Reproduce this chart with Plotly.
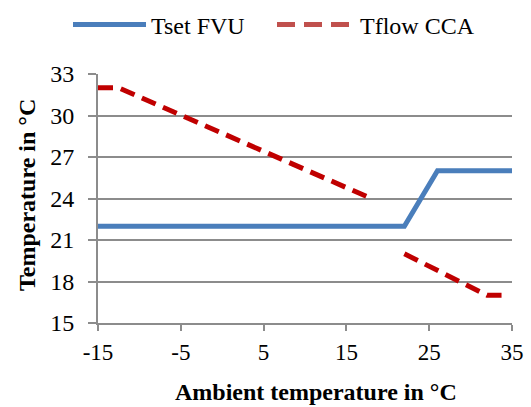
import plotly.graph_objects as go

# Data
ambient_fvu = [-15, 22, 26, 35]
tset_fvu = [22, 22, 26, 26]

ambient_cca = [-15, -12.5, 18, None, 22, 32, 34]
tflow_cca = [32, 32, 24, None, 20, 17, 17]

x_ticks = [-15, -5, 5, 15, 25, 35]
y_ticks = [15, 18, 21, 24, 27, 30, 33]

BLUE = "#4a7ebb"
RED = "#c00000"
RED_LEGEND = "#c0504d"
GRID = "#8c8c8c"
FONT = "Liberation Serif"

W, H = 531, 407
L, R, T, B = 98, 19, 74, 84
PW, PH = W - L - R, H - T - B

fig = go.Figure()

fig.add_trace(go.Scatter(
    x=ambient_fvu, y=tset_fvu, mode="lines", name="Tset FVU",
    line=dict(color=BLUE, width=5), showlegend=False,
))
fig.add_trace(go.Scatter(
    x=ambient_cca, y=tflow_cca, mode="lines", name="Tflow CCA",
    line=dict(color=RED, width=5, dash="15px,8px"), showlegend=False,
    connectgaps=False,
))
# legend entries (one legend per entry for exact placement)
fig.add_trace(go.Scatter(
    x=[None], y=[None], mode="lines", name="Tset FVU",
    line=dict(color=BLUE, width=5), showlegend=True, legend="legend",
))
fig.add_trace(go.Scatter(
    x=[None], y=[None], mode="lines", name="Tflow CCA",
    line=dict(color=RED_LEGEND, width=5, dash="18px,9px"), showlegend=True,
    legend="legend2",
))

legend_common = dict(
    orientation="h", xanchor="left", xref="container", yref="container",
    y=1 - 25 / H, yanchor="middle", font=dict(family=FONT, size=24),
    itemwidth=73, bgcolor="rgba(0,0,0,0)",
)

fig.update_layout(
    width=W, height=H,
    margin=dict(l=L, r=R, t=T, b=B, autoexpand=False),
    paper_bgcolor="white", plot_bgcolor="white",
    font=dict(family=FONT, size=24, color="black"),
    legend=dict(legend_common, x=68 / W),
    legend2=dict(legend_common, x=272 / W, itemwidth=78),
    xaxis=dict(
        range=[-15, 35], tickvals=x_ticks, ticktext=[str(v) for v in x_ticks],
        showgrid=False, zeroline=False, automargin=False,
        showline=True, linecolor=GRID, linewidth=2,
        ticks="outside", ticklen=6, tickcolor=GRID, tickwidth=2,
        ticklabelstandoff=1,
        tickfont=dict(family=FONT, size=23),
    ),
    yaxis=dict(
        range=[15, 33], tickvals=y_ticks, ticktext=[str(v) for v in y_ticks],
        showgrid=True, gridcolor=GRID, gridwidth=2, zeroline=False,
        automargin=False,
        showline=True, linecolor=GRID, linewidth=2,
        ticks="outside", ticklen=8, tickcolor=GRID, tickwidth=2,
        ticklabelstandoff=9,
        tickfont=dict(family=FONT, size=24),
    ),
    annotations=[
        dict(text="<b>Ambient temperature in °C</b>", xref="paper", yref="paper",
             x=(316 - L) / PW, y=-(392 - (T + PH)) / PH, xanchor="center",
             yanchor="middle", showarrow=False,
             font=dict(family=FONT, size=24)),
        dict(text="<b>Temperature in °C</b>", xref="paper", yref="paper",
             x=(27 - L) / PW, y=(T + PH - 195) / PH, xanchor="center",
             yanchor="middle", textangle=-90, showarrow=False,
             font=dict(family=FONT, size=24)),
    ],
)

fig.write_html("out.html", config={"displayModeBar": False},
               post_script="document.body.style.margin='0';")
